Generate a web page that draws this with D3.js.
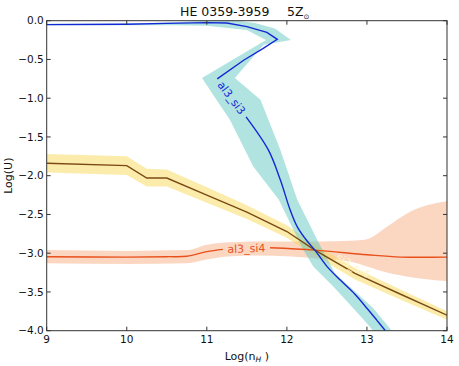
<!doctype html>
<html lang="en">
  <head>
    <meta charset="UTF-8" />
    <title>HE 0359-3959 5Z</title>
    <script src="https://d3js.org/d3.v7.min.js"></script>
    <style>
      body {
        margin: 0;
        background: #fff;
        font-family: 'DejaVu Sans', sans-serif;
      }
      .tick-label {
        font-size: 10.5px;
        fill: #111;
      }
    </style>
  </head>
  <body>
    <svg id="chart" width="459" height="366"></svg>
    <script>
      // axis ticks
      const xTicks = [9, 10, 11, 12, 13, 14]
      const yTicks = [0, -0.5, -1, -1.5, -2, -2.5, -3, -3.5, -4]

      // al3_si3 ratio (blue), split where the inline label sits
      const al3si3Upper = [
        [9, -0.05], [10, -0.045], [10.5, -0.035], [11, -0.025], [11.25, -0.03],
        [11.5, -0.077], [11.75, -0.15], [11.88, -0.24], [11.7, -0.36],
        [11.46, -0.51], [11.13, -0.75],
      ]
      const al3si3Lower = [
        [11.49, -1.24], [11.77, -1.67], [11.92, -2.06], [12.04, -2.44],
        [12.13, -2.66], [12.25, -2.84], [12.35, -2.96], [12.5, -3.17],
        [12.67, -3.35], [12.85, -3.53], [13.0, -3.71], [13.12, -3.86], [13.23, -4.0],
      ]
      // its uncertainty region (outline)
      const al3si3Band = [
        [9, -0.04], [10, -0.035], [10.6, -0.02], [11, 0.0], [11.3, 0.01], [11.6, -0.03],
        [11.85, -0.1], [12.05, -0.25], [11.71, -0.31], [11.35, -0.74],
        [11.67, -1.02], [11.92, -1.67], [12.13, -2.31], [12.38, -2.83],
        [12.6, -3.26], [13.08, -3.71], [13.35, -4.05],
        [13.12, -4.05], [12.96, -3.86], [12.58, -3.43], [12.33, -3.17],
        [12.2, -2.95], [11.9, -2.31], [11.58, -1.88], [11.29, -1.28],
        [11.12, -1.02], [10.94, -0.74], [11.05, -0.67], [11.74, -0.25],
        [11.5, -0.12], [11, -0.065], [10.6, -0.06], [10, -0.06], [9, -0.06],
      ]

      // al3_si4 ratio (orange)
      const al3si4Left = [
        [9, -3.045], [10, -3.05], [10.5, -3.045], [10.75, -3.04], [11, -2.98], [11.2, -2.95],
      ]
      const al3si4Right = [
        [11.79, -2.93], [12.35, -2.96], [13, -3.02], [13.42, -3.05], [14, -3.05],
      ]
      // [x, low, high]
      const al3si4Band = [
        [9, -3.13, -2.96], [10, -3.14, -2.97], [10.75, -3.13, -2.96],
        [11, -3.08, -2.89], [11.3, -3.04, -2.86], [11.6, -3.03, -2.85],
        [12, -3.04, -2.85], [12.4, -3.07, -2.85], [12.8, -3.11, -2.84],
        [13.0, -3.17, -2.82], [13.25, -3.25, -2.66], [13.55, -3.31, -2.46],
        [14, -3.36, -2.33],
      ]

      // third ratio (brown line, yellow band)
      const thirdLine = [
        [9, -1.84], [10, -1.87], [10.25, -2.03], [10.5, -2.03], [11, -2.25],
        [11.5, -2.47], [12, -2.72], [12.35, -2.96], [12.85, -3.26],
        [13.4, -3.52], [14, -3.8],
      ]
      const thirdBand = [
        [9, -1.96, -1.72], [10, -1.99, -1.75], [10.25, -2.14, -1.91],
        [10.5, -2.14, -1.92], [11, -2.35, -2.15], [11.5, -2.56, -2.38],
        [12, -2.8, -2.64], [12.35, -3.03, -2.89], [12.85, -3.34, -3.19],
        [13.4, -3.59, -3.46], [14, -3.86, -3.75],
      ]

      const svg = d3.select('#chart')
      const box = { left: 46.7, right: 447, top: 20.7, bottom: 330.7 }

      const x = d3.scaleLinear().domain([9, 14]).range([box.left, box.right])
      const y = d3.scaleLinear().domain([-4, 0]).range([box.bottom, box.top])

      svg.append('clipPath').attr('id', 'plot-clip')
        .append('rect')
        .attr('x', box.left).attr('y', box.top)
        .attr('width', box.right - box.left).attr('height', box.bottom - box.top)

      const plot = svg.append('g').attr('clip-path', 'url(#plot-clip)')

      const line = d3.line().x((d) => x(d[0])).y((d) => y(d[1]))
      const smooth = d3.line().x((d) => x(d[0])).y((d) => y(d[1])).curve(d3.curveCatmullRom)
      const area = d3.area().x((d) => x(d[0])).y0((d) => y(d[1])).y1((d) => y(d[2]))
      const smoothArea = d3.area().x((d) => x(d[0])).y0((d) => y(d[1])).y1((d) => y(d[2]))
        .curve(d3.curveMonotoneX)

      // bands
      plot.append('path').attr('d', smoothArea(al3si4Band))
        .attr('fill', 'rgb(244,140,80)').attr('fill-opacity', 0.35)
      plot.append('path').attr('d', area(thirdBand))
        .attr('fill', 'rgb(248,212,70)').attr('fill-opacity', 0.45)
      plot.append('path').attr('d', line(al3si3Band) + 'Z')
        .attr('fill', 'rgb(100,200,195)').attr('fill-opacity', 0.5)

      // lines
      const lineStyle = (sel, color) =>
        sel.attr('fill', 'none').attr('stroke', color).attr('stroke-width', 1.4)
      lineStyle(plot.append('path').attr('d', smooth(al3si4Left)), '#e8501a')
      lineStyle(plot.append('path').attr('d', smooth(al3si4Right)), '#e8501a')
      lineStyle(plot.append('path').attr('d', line(thirdLine)), '#7b4a12')
      lineStyle(plot.append('path').attr('d', line(al3si3Upper)), '#1428d6')
      lineStyle(plot.append('path').attr('d', smooth(al3si3Lower)), '#1428d6')

      // inline labels placed in the gaps
      function gapLabel(a, b, text, color) {
        const x0 = x(a[0]), y0 = y(a[1]), x1 = x(b[0]), y1 = y(b[1])
        const ang = (Math.atan2(y1 - y0, x1 - x0) * 180) / Math.PI
        svg.append('text')
          .attr('transform', `translate(${(x0 + x1) / 2},${(y0 + y1) / 2}) rotate(${ang})`)
          .attr('text-anchor', 'middle')
          .attr('dy', '0.35em')
          .style('font-size', '11px')
          .style('fill', color)
          .text(text)
      }
      gapLabel(al3si3Upper[al3si3Upper.length - 1], al3si3Lower[0], 'al3_si3', '#1428d6')
      gapLabel(al3si4Left[al3si4Left.length - 1], al3si4Right[0], 'al3_si4', '#e8501a')
      gapLabel([12.6, -3.02], [13.05, -3.3], 'si3_si4', '#fff6c8')

      // frame
      svg.append('rect')
        .attr('x', box.left).attr('y', box.top)
        .attr('width', box.right - box.left).attr('height', box.bottom - box.top)
        .attr('fill', 'none').attr('stroke', '#333').attr('stroke-width', 1)

      // inward ticks on all sides
      const tickLen = 4
      const axes = svg.append('g').attr('stroke', '#333').attr('stroke-width', 1)
      xTicks.forEach((t) => {
        axes.append('line').attr('x1', x(t)).attr('x2', x(t)).attr('y1', box.bottom).attr('y2', box.bottom - tickLen)
        axes.append('line').attr('x1', x(t)).attr('x2', x(t)).attr('y1', box.top).attr('y2', box.top + tickLen)
      })
      yTicks.forEach((t) => {
        axes.append('line').attr('x1', box.left).attr('x2', box.left + tickLen).attr('y1', y(t)).attr('y2', y(t))
        axes.append('line').attr('x1', box.right).attr('x2', box.right - tickLen).attr('y1', y(t)).attr('y2', y(t))
      })

      svg.selectAll('.xt').data(xTicks).enter().append('text')
        .attr('class', 'tick-label')
        .attr('x', (d) => x(d)).attr('y', box.bottom + 12.5)
        .attr('text-anchor', 'middle')
        .text((d) => d)

      const fmtY = d3.format('.1f')
      svg.selectAll('.yt').data(yTicks).enter().append('text')
        .attr('class', 'tick-label')
        .attr('x', box.left - 3).attr('y', (d) => y(d))
        .attr('dy', '0.35em')
        .attr('text-anchor', 'end')
        .text((d) => fmtY(d).replace('-', '\u2212'))

      // axis titles
      const xl = svg.append('text')
        .attr('x', (box.left + box.right) / 2).attr('y', 360)
        .attr('text-anchor', 'middle')
        .style('font-size', '11px').style('fill', '#111')
      xl.append('tspan').text('Log(n')
      xl.append('tspan').attr('dy', 2).style('font-size', '7.5px').style('font-style', 'italic').text('H')
      xl.append('tspan').attr('dy', -2).text(' )')

      svg.append('text')
        .attr('transform', `translate(12,${(box.top + box.bottom) / 2}) rotate(-90)`)
        .attr('text-anchor', 'middle')
        .style('font-size', '11px').style('fill', '#111')
        .text('Log(U)')

      // title
      const title = svg.append('text')
        .attr('x', 180).attr('y', 16)
        .style('font-size', '12.5px').style('fill', '#111')
      title.append('tspan').text('HE 0359-3959')
      title.append('tspan').attr('x', 287).text('5Z')
      title.append('tspan').attr('dy', 3).style('font-size', '7px').text('\u2299')
    </script>
  </body>
</html>
